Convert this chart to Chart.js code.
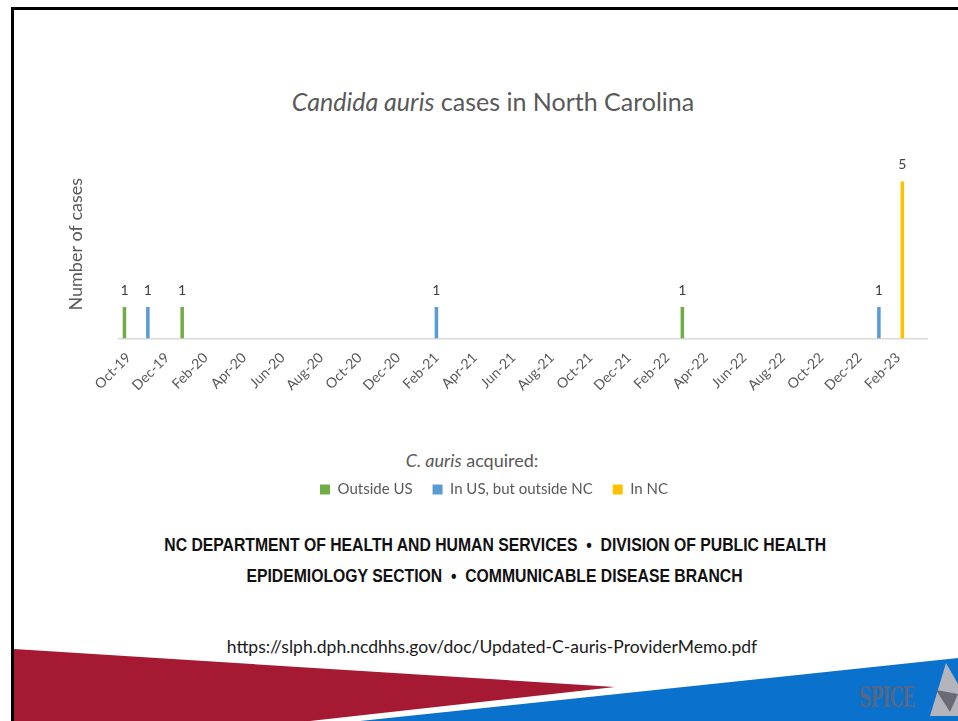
<!DOCTYPE html>
<html>
<head>
<meta charset="utf-8">
<script src="https://cdn.jsdelivr.net/npm/chart.js@4/dist/chart.umd.min.js"></script>
<style>
  html, body { margin: 0; padding: 0; }
  body { width: 958px; height: 721px; position: relative; overflow: hidden; background: #fff; font-family: Lato, "Open Sans", sans-serif; }
  .frame { position: absolute; left: 11px; top: 7px; right: 0; bottom: 0; border-left: 3px solid #000; border-top: 3px solid #000; }
  .red { position: absolute; left: 0; top: 0; width: 958px; height: 721px; background: #a51a32;
         clip-path: polygon(14px 649px, 615px 687px, 310px 721px, 14px 721px); }
  .blue { position: absolute; left: 0; top: 0; width: 958px; height: 721px; background: #0a72cc;
          clip-path: polygon(360px 721px, 958px 658px, 958px 721px); }
  .tri { position: absolute; left: 0; top: 0; width: 958px; height: 721px; background: #b4b4bc;
         clip-path: polygon(946px 663px, 958px 684px, 958px 716px, 930px 716px); }
  .tri2 { position: absolute; left: 0; top: 0; width: 958px; height: 721px; background: #6a6a74;
         clip-path: polygon(936px 690px, 958px 694px, 950px 712px); }
  .spice { position: absolute; left: 859px; top: 682px; font-family: "DejaVu Serif", serif; font-weight: bold; font-size: 27px; color: #62667a;
           transform: scaleX(0.62); transform-origin: left top; letter-spacing: -1px; opacity: 0.85; }
  #wrap { position: absolute; left: 0; top: 0; width: 958px; height: 507px; }
  .title { position: absolute; top: 86px; left: 0; width: 986px; text-align: center; font-size: 25px; color: #595959; }
  .lgtitle { position: absolute; top: 449px; left: 0; width: 944px; text-align: center; font-size: 18px; color: #595959; }
  .foot { position: absolute; left: 0; width: 990px; text-align: center; font-family: "Liberation Sans", Arial, sans-serif;
          font-weight: bold; font-size: 18px; color: #111; }
  .foot span { display: inline-block; transform: scaleX(0.875); }
  .url { position: absolute; top: 636px; left: 0; width: 984px; text-align: center; font-size: 17.5px; color: #1a1a1a; }
</style>
</head>
<body>
<div class="red"></div>
<div class="blue"></div>
<div class="tri"></div>
<div class="tri2"></div>
<div class="spice">SPICE</div>
<div class="frame"></div>

<div class="title"><i>Candida auris</i> cases in North Carolina</div>
<div class="lgtitle"><i>C. auris</i> acquired:</div>
<div class="foot" style="top:535px"><span>NC DEPARTMENT OF HEALTH AND HUMAN SERVICES &nbsp;•&nbsp; DIVISION OF PUBLIC HEALTH</span></div>
<div class="foot" style="top:566px"><span>EPIDEMIOLOGY SECTION &nbsp;•&nbsp; COMMUNICABLE DISEASE BRANCH</span></div>
<div class="url">https://slph.dph.ncdhhs.gov/doc/Updated-C-auris-ProviderMemo.pdf</div>

<div id="wrap"><canvas id="caseChart"></canvas></div>

<script>
// Monthly categories, Oct-19 .. Mar-23 (every second one is labelled)
const months = [
    'Oct-19', 'Nov-19', 'Dec-19', 'Jan-20', 'Feb-20', 'Mar-20', 'Apr-20', 'May-20', 'Jun-20', 'Jul-20', 'Aug-20', 'Sep-20',
    'Oct-20', 'Nov-20', 'Dec-20', 'Jan-21', 'Feb-21', 'Mar-21', 'Apr-21', 'May-21', 'Jun-21', 'Jul-21', 'Aug-21', 'Sep-21',
    'Oct-21', 'Nov-21', 'Dec-21', 'Jan-22', 'Feb-22', 'Mar-22', 'Apr-22', 'May-22', 'Jun-22', 'Jul-22', 'Aug-22', 'Sep-22',
    'Oct-22', 'Nov-22', 'Dec-22', 'Jan-23', 'Feb-23', 'Mar-23'
];

const outsideUS = [
    1, null, null, 1, null, null, null, null, null, null, null, null,
    null, null, null, null, null, null, null, null, null, null, null, null,
    null, null, null, null, null, 1, null, null, null, null, null, null,
    null, null, null, null, null, null
];
const inUSoutsideNC = [
    null, 1, null, null, null, null, null, null, null, null, null, null,
    null, null, null, null, 1, null, null, null, null, null, null, null,
    null, null, null, null, null, null, null, null, null, null, null, null,
    null, null, null, 1, null, null
];
const inNC = [
    null, null, null, null, null, null, null, null, null, null, null, null,
    null, null, null, null, null, null, null, null, null, null, null, null,
    null, null, null, null, null, null, null, null, null, null, null, null,
    null, null, null, null, 5, null
];

const seriesNames = ['Outside US', 'In US, but outside NC', 'In NC'];
const seriesColors = ['#70ad47', '#5b9bd5', '#ffc000'];

// draws the value above each bar
const valueLabels = {
    id: 'valueLabels',
    afterDatasetsDraw(chart) {
        const ctx = chart.ctx;
        ctx.save();
        ctx.font = '14px Lato';
        ctx.fillStyle = '#404040';
        ctx.textAlign = 'center';
        ctx.textBaseline = 'bottom';
        chart.data.datasets.forEach((ds, i) => {
            chart.getDatasetMeta(i).data.forEach((bar, j) => {
                if (ds.data[j] == null) return;
                ctx.fillText(ds.data[j], bar.x, bar.y - 10);
            });
        });
        ctx.restore();
    }
};

const chartCtx = document.getElementById('caseChart').getContext('2d');
const caseChart = new Chart(chartCtx, {
    type: 'bar',
    data: {
        labels: months,
        datasets: [
            { label: seriesNames[0], data: outsideUS, backgroundColor: seriesColors[0] },
            { label: seriesNames[1], data: inUSoutsideNC, backgroundColor: seriesColors[1] },
            { label: seriesNames[2], data: inNC, backgroundColor: seriesColors[2] }
        ]
    },
    options: {
        responsive: true,
        maintainAspectRatio: false,
        animation: false,
        categoryPercentage: 0.65,
        barPercentage: 0.85,
        layout: { padding: { left: 61, right: 31, top: 150, bottom: 0 } },
        scales: {
            x: {
                grid: { display: false },
                border: { color: '#d9d9d9', width: 1.5 },
                ticks: {
                    color: '#595959',
                    font: { family: 'Lato', size: 14 },
                    autoSkip: false,
                    minRotation: 45,
                    maxRotation: 45,
                    callback: function (val, idx) { return idx % 2 === 0 ? this.getLabelForValue(val) : ''; }
                },
                afterFit: (scale) => { scale.height = 123.5; }
            },
            y: {
                min: 0,
                max: 6,
                grid: { display: false },
                border: { display: false },
                ticks: { display: false },
                title: { display: true, text: 'Number of cases', color: '#595959', font: { family: 'Lato', size: 18 } },
                afterFit: (scale) => { scale.width = 58; }
            }
        },
        plugins: {
            legend: {
                position: 'bottom',
                labels: { boxWidth: 10, boxHeight: 10, padding: 20, color: '#595959', font: { family: 'Lato', size: 15 } }
            },
            tooltip: { enabled: false }
        }
    },
    plugins: [valueLabels]
});
</script>
</body>
</html>
